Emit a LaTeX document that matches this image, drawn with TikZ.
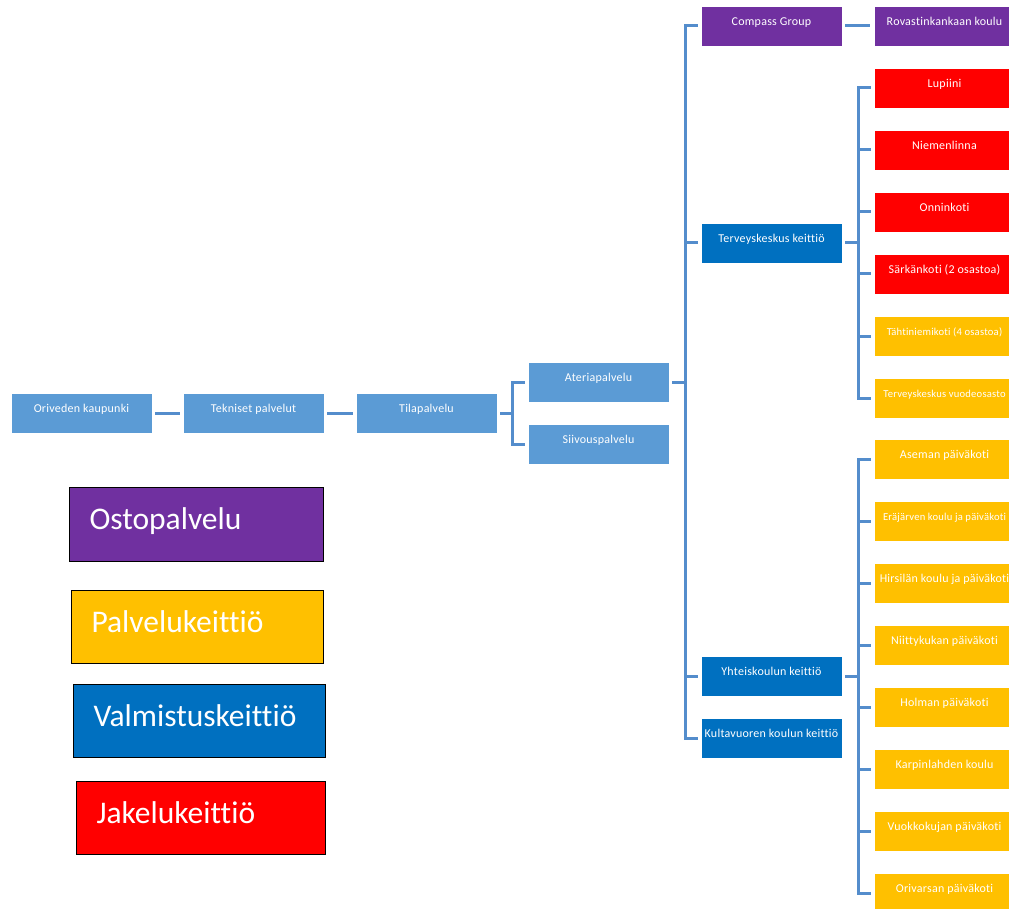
\documentclass[tikz,border=0pt]{standalone}
\usepackage{fontspec}
\setmainfont[Ligatures={NoCommon}]{Carlito}
\newfontfamily\boxfont[Ligatures={NoCommon},LetterSpace=2]{Carlito}
\definecolor{nodeblue}{HTML}{5B9BD5}
\definecolor{linkblue}{RGB}{84,141,204}
\definecolor{buypurple}{HTML}{7030A0}
\definecolor{serveyellow}{HTML}{FFC000}
\definecolor{cookblue}{HTML}{0070C0}
\definecolor{distred}{HTML}{FF0000}
\begin{document}
\begin{tikzpicture}[x=1pt,y=-1pt,
  box/.style={rectangle, minimum width=141pt, minimum height=40pt, inner sep=0pt,
    text=white, font=\boxfont\fontsize{12}{14}\selectfont, text height=9pt, text depth=10pt,
    draw=white, line width=0.6pt},
  org/.style={box, fill=nodeblue},
  buy/.style={box, fill=buypurple},
  cook/.style={box, fill=cookblue},
  dist/.style={box, fill=distred},
  serve/.style={box, fill=serveyellow},
  longtext/.style={font=\boxfont\fontsize{10.6}{13}\selectfont},
  conn/.style={draw=linkblue, line width=3pt},
  tochild/.style={conn, shorten >=3pt},
  fromparent/.style={conn, shorten <=3pt},
  legend/.style={rectangle, draw=black, line width=1pt, anchor=north west,
    inner xsep=20pt, inner ysep=0pt, align=left, text=white,
    text height=23pt, text depth=13pt,
    font=\fontsize{31.5}{36}\selectfont}
]
\useasboundingbox (0,0) rectangle (1009,909);
\clip (0,0) rectangle (1009,909);

% main chain
\node[org] (ori)  at (81.5,413)  {Oriveden kaupunki};
\node[org] (tek)  at (253.5,413) {Tekniset palvelut};
\node[org] (tila) at (426.5,413) {Tilapalvelu};
\node[org] (ater) at (598.5,382) {Ateriapalvelu};
\node[org] (siiv) at (598.5,444) {Siivouspalvelu};

% kitchens
\node[buy]  (comp) at (771.5,26)  {Compass Group};
\node[cook] (terv) at (771.5,243) {Terveyskeskus keittiö};
\node[cook] (yht)  at (771.5,676) {Yhteiskoulun keittiö};
\node[cook] (kult) at (771.5,738) {Kultavuoren koulun keittiö};

\node[buy] (rova) at (944.5,26) {Rovastinkankaan koulu};

% units served by the health centre kitchen
\node[dist]  (lup)  at (944.5,88)  {Lupiini};
\node[dist]  (niem) at (944.5,150) {Niemenlinna};
\node[dist]  (onn)  at (944.5,212) {Onninkoti};
\node[dist]  (sark) at (944.5,274) {Särkänkoti (2 osastoa)};
\node[serve, longtext] (taht) at (944.5,336) {Tähtiniemikoti (4 osastoa)};
\node[serve, longtext] (vuod) at (944.5,398) {Terveyskeskus vuodeosasto};

% units served by the school kitchen
\node[serve] (asem) at (944.5,459) {Aseman päiväkoti};
\node[serve, longtext] (eraj) at (944.5,521) {Eräjärven koulu ja päiväkoti};
\node[serve] (hirs) at (944.5,583) {Hirsilän koulu ja päiväkoti};
\node[serve] (niit) at (944.5,645) {Niittykukan päiväkoti};
\node[serve] (holm) at (944.5,707) {Holman päiväkoti};
\node[serve] (karp) at (944.5,769) {Karpinlahden koulu};
\node[serve] (vuok) at (944.5,831) {Vuokkokujan päiväkoti};
\node[serve] (oriv) at (944.5,893) {Orivarsan päiväkoti};

% branch points
\coordinate (j1) at (512,413);
\coordinate (j2) at (685,382);
\coordinate (j3) at (858,243);
\coordinate (j4) at (858,676);

% connectors
\draw[conn, shorten <=3pt, shorten >=3pt] (ori.east) -- (tek.west);
\draw[conn, shorten <=3pt, shorten >=3pt] (tek.east) -- (tila.west);
\draw[conn, shorten <=3pt, shorten >=4pt] (comp.east) -- (rova.west);

\draw[fromparent] (tila.east) -- (j1);
\foreach \c in {ater,siiv} \draw[tochild] (j1) |- (\c.west);

\draw[fromparent] (ater.east) -- (j2);
\foreach \c in {comp,terv,yht,kult} \draw[tochild] (j2) |- (\c.west);

\draw[fromparent] (terv.east) -- (j3);
\foreach \c in {lup,niem,onn,sark,taht,vuod} \draw[tochild] (j3) |- (\c.west);

\draw[fromparent] (yht.east) -- (j4);
\foreach \c in {asem,eraj,hirs,niit,holm,karp,vuok,oriv} \draw[tochild] (j4) |- (\c.west);

% colour key
\node[legend, fill=buypurple, minimum width=254pt, minimum height=74pt, text width=214pt]
  (kbuy) at (69,487) {Ostopalvelu};
\node[legend, fill=serveyellow, minimum width=252pt, minimum height=73pt, text width=212pt]
  (kserve) at (71,590) {Palvelukeittiö};
\node[legend, fill=cookblue, minimum width=252pt, minimum height=73pt, text width=212pt]
  (kcook) at (73,684) {Valmistuskeittiö};
\node[legend, fill=distred, minimum width=249pt, minimum height=73pt, text width=209pt]
  (kdist) at (76,781) {Jakelukeittiö};
\end{tikzpicture}
\end{document}
